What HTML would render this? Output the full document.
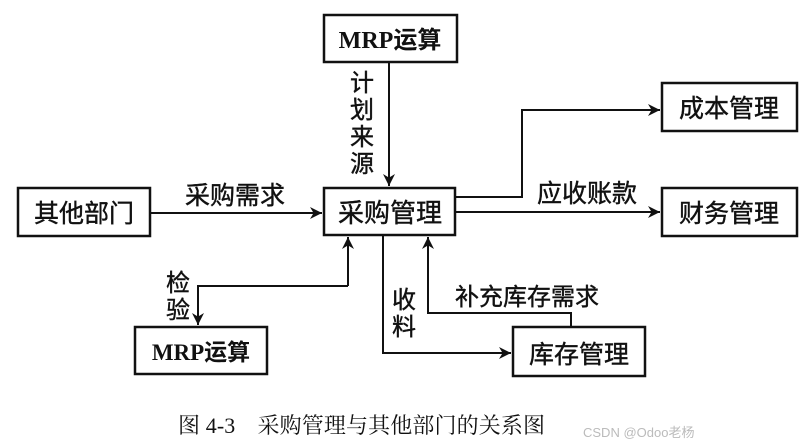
<!DOCTYPE html>
<html><head><meta charset="utf-8"><style>
html,body{margin:0;padding:0;background:#fff;width:810px;height:447px;overflow:hidden}
svg text{font-family:"Liberation Serif","Noto Sans CJK SC",sans-serif;fill:#111}
</style></head><body>
<svg width="810" height="447" viewBox="0 0 810 447" xmlns="http://www.w3.org/2000/svg">
<defs>
<marker id="b" viewBox="0 0 10 10" markerWidth="16" markerHeight="12" refX="10" refY="5" orient="auto" markerUnits="userSpaceOnUse"><path d="M0,0 L10,5 L0,10 L3,5 Z" fill="#111"/></marker></defs>
<g fill="none" stroke="#111" stroke-width="2.5">
<rect x="324" y="15" width="133" height="47"/>
<rect x="18" y="188" width="132" height="48"/>
<rect x="324" y="188" width="131" height="47"/>
<rect x="662" y="83" width="135" height="48"/>
<rect x="662" y="188" width="135" height="48"/>
<rect x="135" y="327" width="132" height="47"/>
<rect x="513" y="327" width="132" height="49"/>
</g>
<g fill="none" stroke="#111" stroke-width="2">
<path d="M389 62 V186" marker-end="url(#b)"/>
<path d="M150 213 H322" marker-end="url(#b)"/>
<path d="M455 197 H522 V110 H660" marker-end="url(#b)"/>
<path d="M455 212 H660" marker-end="url(#b)"/>
<path d="M348 286 V237" marker-end="url(#b)"/>
<path d="M348 286 H198 V325" marker-end="url(#b)"/>
<path d="M383 235 V353 H511" marker-end="url(#b)"/>
<path d="M571 327 V313 H428 V237" marker-end="url(#b)"/>
</g>
<g font-family="Noto Sans CJK SC" stroke="#111" stroke-width="0.4">
<text x="390" y="48" font-size="24" text-anchor="middle" font-weight="bold" stroke-width="0" style="font-family:'Liberation Serif','Noto Sans CJK SC',serif">MRP运算</text>
<text x="84" y="222" font-size="25" text-anchor="middle">其他部门</text>
<text x="390" y="222" font-size="26" text-anchor="middle">采购管理</text>
<text x="729" y="117" font-size="25" text-anchor="middle">成本管理</text>
<text x="729" y="222" font-size="25" text-anchor="middle">财务管理</text>
<text x="201" y="360" font-size="23" text-anchor="middle" font-weight="bold" stroke-width="0" style="font-family:'Liberation Serif','Noto Sans CJK SC',serif">MRP运算</text>
<text x="579" y="363" font-size="25" text-anchor="middle">库存管理</text>
<text x="235" y="204" font-size="25" text-anchor="middle">采购需求</text>
<text x="587" y="202" font-size="25" text-anchor="middle">应收账款</text>
<text x="527" y="305" font-size="24" text-anchor="middle">补充库存需求</text>
<text x="362" y="91" font-size="24" text-anchor="middle">计</text>
<text x="362" y="118" font-size="24" text-anchor="middle">划</text>
<text x="362" y="145" font-size="24" text-anchor="middle">来</text>
<text x="362" y="172" font-size="24" text-anchor="middle">源</text>
<text x="178" y="291" font-size="24" text-anchor="middle">检</text>
<text x="178" y="318" font-size="24" text-anchor="middle">验</text>
<text x="404" y="308" font-size="24" text-anchor="middle">收</text>
<text x="404" y="335" font-size="24" text-anchor="middle">料</text>
</g>
<text x="178" y="433" font-size="22" textLength="367" style="font-family:'Liberation Serif','Noto Serif CJK SC',serif">图 4-3　采购管理与其他部门的关系图</text>
<text x="583" y="437" font-size="13" style="fill:#bbb;font-family:'Liberation Sans','Noto Sans CJK SC',sans-serif">CSDN @Odoo老杨</text>
</svg>
</body></html>
